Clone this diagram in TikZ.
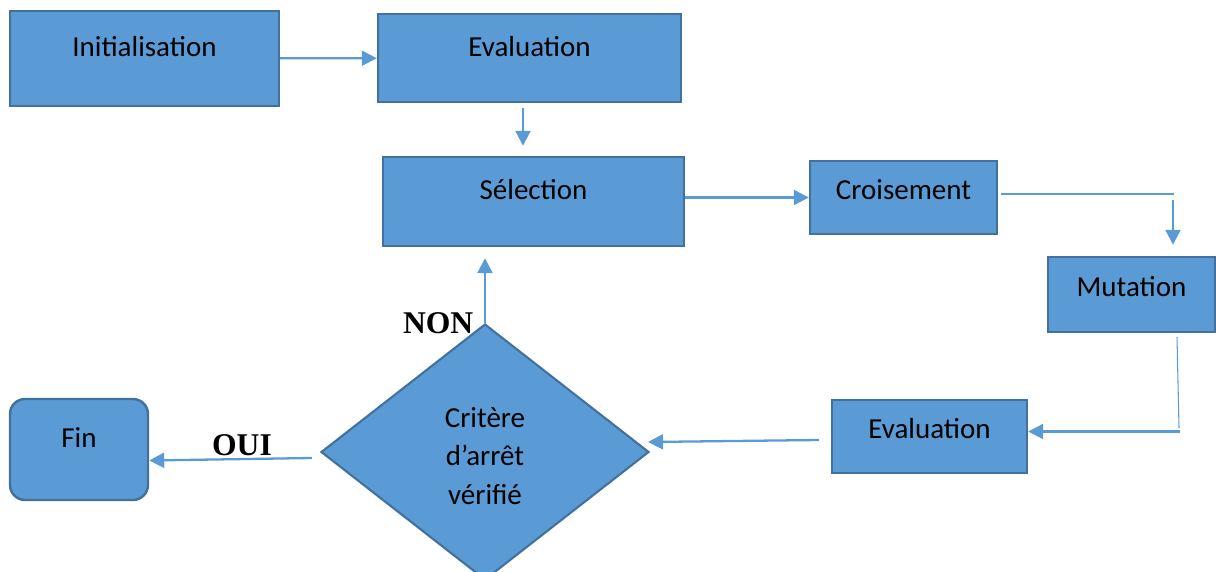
\documentclass[tikz,border=0pt]{standalone}
\usepackage{fontspec}
\setmainfont{Carlito}
\newfontfamily\timesbf{Liberation Serif}
\usetikzlibrary{shapes.geometric,arrows.meta}
\definecolor{bleu}{RGB}{91,155,213}
\definecolor{bord}{RGB}{65,113,156}

\begin{document}
\begin{tikzpicture}[x=0.02cm,y=-0.02cm,
  bloc/.style={draw=bord,fill=bleu,line width=1.4pt,inner sep=0pt,text height=0.4cm,text depth=#1,font=\fontsize{16.5}{20}\selectfont},
  bloc/.default=0.47cm,
  test/.style={diamond,draw=bord,fill=bleu,line width=1.2pt,inner sep=0pt,align=center,font=\fontsize{16.5}{22.1}\selectfont},
  fleche/.style={bleu,line width=1.3pt,-{Triangle[length=0.3cm,width=0.3cm]}},
  trait/.style={bleu,line width=0.6pt},
  reponse/.style={text=black,font=\timesbf\bfseries\fontsize{18}{20}\selectfont,inner sep=1pt}]
\useasboundingbox (0,0) rectangle (1216,571);
%boites
\node[bloc,minimum width=5.38cm,minimum height=1.9cm] (init) at (144.5,58.5) {Initialisation};
\node[bloc,minimum width=6.06cm,minimum height=1.76cm] (eval1) at (529.5,58) {Evaluation};
\node[bloc,minimum width=6.02cm,minimum height=1.78cm] (sel) at (533.5,201.5) {Sélection};
\node[bloc=0.33cm,minimum width=3.74cm,minimum height=1.46cm] (crois) at (903.5,197.5) {Croisement};
\node[bloc=0.33cm,minimum width=3.34cm,minimum height=1.5cm] (mut) at (1131.5,294.5) {Mutation};
\node[bloc=0.33cm,minimum width=3.9cm,minimum height=1.46cm] (eval2) at (929.5,436.5) {Evaluation};
\node[bloc,rounded corners=0.3cm,minimum width=2.76cm,minimum height=2.02cm] (fin) at (79,449.5) {Fin};
\node[test,minimum width=6.56cm,minimum height=5.12cm] (crit) at (485,452) {\rule{0pt}{0.56cm}Critère\\d’arrêt\\vérifié};
%coins
\coordinate (k1) at (1174,194);
\coordinate (k2) at (1173,200);
\coordinate (k3) at (1179,428);
\coordinate (k4) at (1180,431.5);
%fleches
\draw[fleche] (init) -- (eval1);
\draw[fleche,shorten <=0.1cm,shorten >=0.2cm] ([xshift=-0.13cm]eval1.south) -- ([xshift=-0.13cm]eval1.south |- sel.north);
\draw[fleche] (sel.east |- crois.west) -- (crois.west);
\draw[trait] ([shift={(3,-3.5)}]crois.east) -- (k1);
\draw[fleche,shorten >=0.22cm] (k2) -- (k2 |- mut.north);
\draw[trait] ([shift={(45.5,4)}]mut.south) -- (k3);
\draw[fleche] (k4) -- (k4 -| eval2.east);
\draw[fleche] ([shift={(-12,3.5)}]eval2.west) -- ([shift={(-2,-10)}]crit.east);
\draw[fleche] ([shift={(-8,6)}]crit.west) -- ([shift={(0,11)}]fin.east) node[reponse,pos=0.43,above] {OUI};
\draw[fleche,shorten >=0.22cm] (crit.north) node[reponse,left,inner sep=6pt] {NON} -- (crit.north |- sel.south);
\end{tikzpicture}
\end{document}
